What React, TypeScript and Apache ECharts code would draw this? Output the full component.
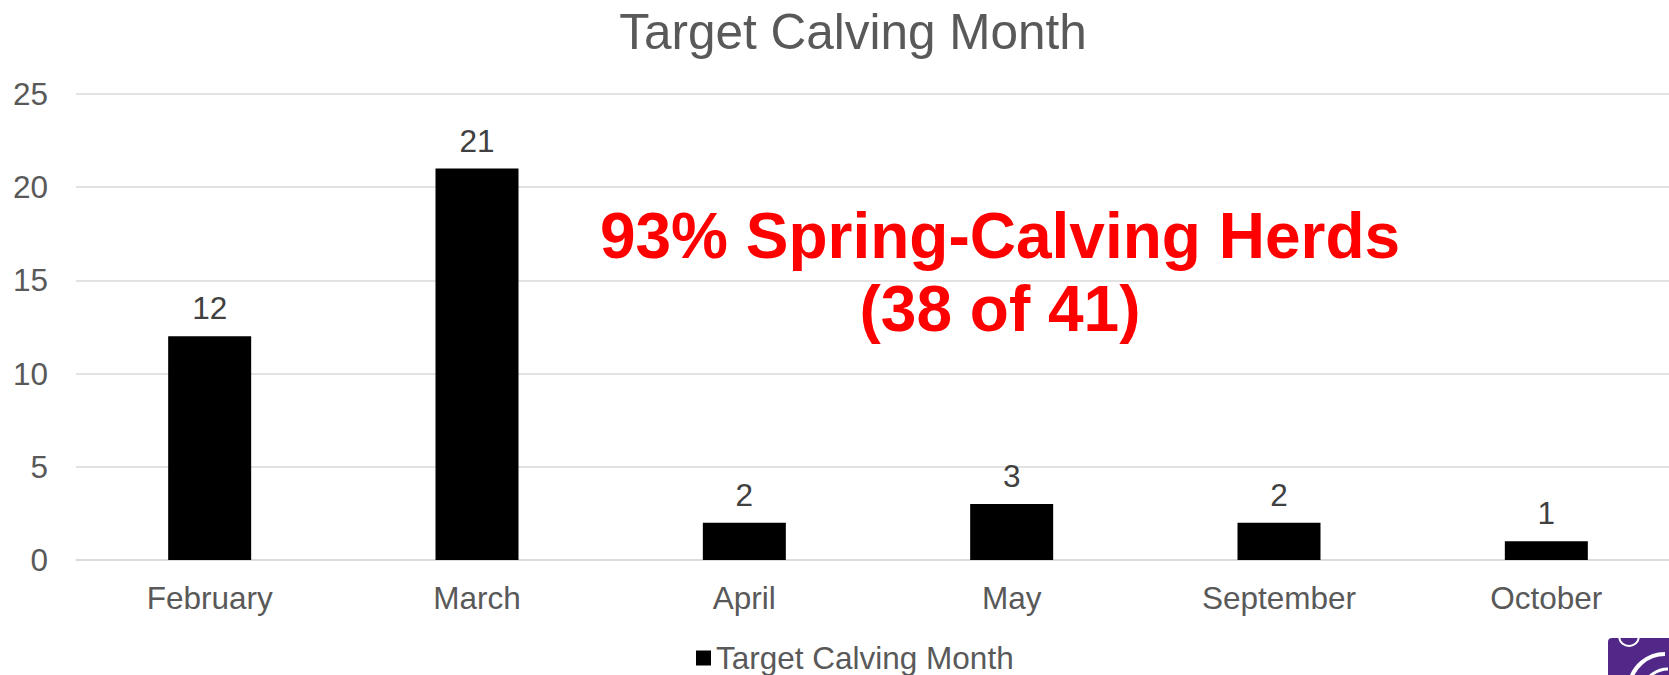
import React, { useEffect, useRef } from "react";
import * as echarts from "echarts";

const categories = ["February", "March", "April", "May", "September", "October"];
const values = [12, 21, 2, 3, 2, 1];
const seriesName = "Target Calving Month";
const titleText = "Target Calving Month";
const noteLines = ["93% Spring-Calving Herds", "(38 of 41)"];
const yMin = 0;
const yMax = 25;
const yInterval = 5;

export default function App() {
  const ref = useRef<HTMLDivElement>(null);
  useEffect(() => {
    if (!ref.current) return;
    const chart = echarts.init(ref.current, undefined, { renderer: "svg" });
    const font = "'Liberation Sans', Arial, sans-serif";
    chart.setOption({
      animation: false,
      backgroundColor: "#ffffff",
      textStyle: { fontFamily: font },
      title: {
        text: titleText,
        left: 848,
        top: 1,
        textAlign: "center",
        textStyle: { fontFamily: font, fontSize: 49.5, fontWeight: "normal", color: "#595959" },
      },
      legend: {
        data: [seriesName],
        left: 691,
        top: 637,
        itemWidth: 15,
        itemHeight: 15,
        icon: "rect",
        textStyle: { fontFamily: font, fontSize: 31.5, color: "#595959" },
      },
      grid: {
        left: 76,
        width: 1604,
        top: 94,
        bottom: 115,
        containLabel: false,
        outerBoundsMode: "none",
      },
      xAxis: {
        type: "category",
        data: categories,
        axisLine: { show: true, lineStyle: { color: "#d9d9d9", width: 1.5 } },
        axisTick: { show: false },
        axisLabel: { fontFamily: font, fontSize: 31.5, color: "#595959", margin: 22 },
      },
      yAxis: {
        type: "value",
        min: yMin,
        max: yMax,
        interval: yInterval,
        axisLine: { show: false },
        axisTick: { show: false },
        splitLine: { lineStyle: { color: "#d9d9d9", width: 1.5 } },
        axisLabel: { fontFamily: font, fontSize: 31.5, color: "#595959", margin: 28 },
      },
      series: [
        {
          name: seriesName,
          type: "bar",
          data: values,
          barWidth: 83,
          itemStyle: { color: "#000000" },
          label: {
            show: true,
            position: "top",
            distance: 12,
            fontFamily: font,
            fontSize: 31.5,
            color: "#404040",
          },
        },
      ],
      graphic: [
        {
          type: "text",
          x: 1000,
          y: 236,
          style: {
            text: noteLines[0],
            font: "bold 64px 'Liberation Sans', Arial, sans-serif",
            fill: "#ff0000",
            textAlign: "center",
            textVerticalAlign: "middle",
          },
        },
        {
          type: "text",
          x: 1000,
          y: 309,
          style: {
            text: noteLines[1],
            font: "bold 64px 'Liberation Sans', Arial, sans-serif",
            fill: "#ff0000",
            textAlign: "center",
            textVerticalAlign: "middle",
          },
        },
        {
          type: "group",
          children: [
            {
              type: "rect",
              shape: { x: 1608, y: 638, width: 70, height: 45, r: 4 },
              style: { fill: "#512888" },
            },
            {
              type: "arc",
              shape: { cx: 1629, cy: 636, r: 10, startAngle: 0.2, endAngle: Math.PI - 0.2 },
              style: { stroke: "#ffffff", lineWidth: 2, fill: "none" },
            },
            {
              type: "arc",
              shape: { cx: 1665, cy: 690, r: 36, startAngle: Math.PI * 1.05, endAngle: Math.PI * 1.5 },
              style: { stroke: "#ffffff", lineWidth: 4, fill: "none" },
            },
            {
              type: "arc",
              shape: { cx: 1668, cy: 695, r: 26, startAngle: Math.PI * 1.1, endAngle: Math.PI * 1.5 },
              style: { stroke: "#ffffff", lineWidth: 3, fill: "none" },
            },
          ],
        },
      ],
    });
    return () => chart.dispose();
  }, []);
  return (
    <div
      ref={ref}
      style={{ position: "fixed", left: 0, top: 0, width: 1669, height: 675 }}
    />
  );
}
